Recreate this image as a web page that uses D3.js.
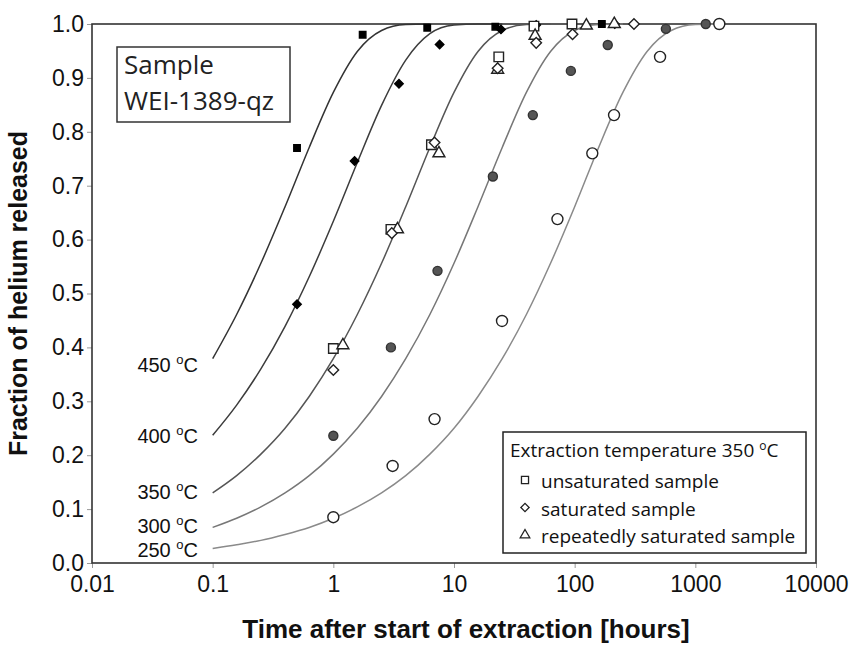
<!DOCTYPE html>
<html lang="en">
<head>
    <meta charset="utf-8" />
    <title>Helium release</title>
    <script src="https://cdnjs.cloudflare.com/ajax/libs/d3/7.4.4/d3.min.js"></script>
    <style>
      body { margin: 0; background: #fff; }
      svg { display: block; }
    </style>
</head>
<body>
    <div id="chart"></div>
    <script type="text/javascript">

    // time grid for the fitted curves (hours)
    var curveTimes = [0.1, 0.158, 0.251, 0.398, 0.631, 1, 1.58, 2.51, 3.98, 6.31, 10, 15.8, 25.1, 39.8, 63.1,
                      100, 158, 251, 398, 631, 1000, 1585];

    // fitted release curves
    var curve450 = [0.379, 0.461, 0.556, 0.661, 0.771, 0.873, 0.949, 0.988, 0.999, 1.0];
    var curve400 = [0.237, 0.293, 0.360, 0.439, 0.531, 0.634, 0.743, 0.849, 0.933, 0.982, 0.998, 1.0, 1.0];
    var curve350 = [0.130, 0.162, 0.202, 0.250, 0.309, 0.379, 0.461, 0.556, 0.661, 0.771, 0.873, 0.949, 0.988, 0.999, 1.0];
    var curve300 = [0.066, 0.083, 0.104, 0.130, 0.162, 0.202, 0.250, 0.309, 0.379, 0.461, 0.556, 0.661, 0.771, 0.873,
                    0.949, 0.988, 0.999, 1.0];
    var curve250 = [0.027, 0.034, 0.042, 0.053, 0.066, 0.083, 0.104, 0.130, 0.162, 0.202, 0.250, 0.309, 0.379, 0.461,
                    0.556, 0.661, 0.771, 0.873, 0.949, 0.988, 0.999, 1.0];

    var curveNames = ["450 \u00b0C", "400 \u00b0C", "350 \u00b0C", "300 \u00b0C", "250 \u00b0C"];

    // measured points [hours, fraction]
    var pts450 = [[0.5, 0.77], [1.75, 0.98], [6, 0.993], [22, 0.995], [168, 1.0]];
    var pts400 = [[0.5, 0.48], [1.5, 0.746], [3.5, 0.889], [7.6, 0.962], [24.5, 0.99], [48, 0.998], [215, 1.0]];
    var ptsUnsat = [[1, 0.398], [3, 0.619], [6.5, 0.776], [23.5, 0.939], [46, 0.996], [95, 1.0]];
    var ptsSat = [[1, 0.358], [3.05, 0.612], [6.9, 0.78], [23, 0.918], [48, 0.965], [96, 0.981], [310, 1.0]];
    var ptsRep = [[1.2, 0.404], [3.4, 0.619], [7.5, 0.76], [23, 0.915], [47, 0.978], [125, 0.997], [213, 1.0]];
    var pts300 = [[1, 0.236], [3, 0.40], [7.3, 0.542], [21, 0.717], [45, 0.831], [93, 0.913], [188, 0.961],
                  [570, 0.991], [1220, 1.0]];
    var pts250 = [[1, 0.085], [3.1, 0.18], [6.9, 0.267], [25, 0.449], [72, 0.638], [140, 0.76], [212, 0.831],
                  [510, 0.939], [1580, 1.0]];

    var xTicks = [0.01, 0.1, 1, 10, 100, 1000, 10000];
    var xTickLabels = ["0.01", "0.1", "1", "10", "100", "1000", "10000"];
    var yTicks = [0, 0.1, 0.2, 0.3, 0.4, 0.5, 0.6, 0.7, 0.8, 0.9, 1.0];

    var legendLabels = ["unsaturated sample", "saturated sample", "repeatedly saturated sample"];

    var width = 856, height = 646;
    var margin = { top: 24, right: 40, bottom: 83, left: 92 };

    var svg = d3.select("#chart").append("svg")
        .attr("width", width)
        .attr("height", height);

    var x = d3.scaleLog()
        .domain([0.01, 10000])
        .range([margin.left, width - margin.right]);

    var y = d3.scaleLinear()
        .domain([0, 1])
        .range([height - margin.bottom, margin.top]);

    // axes
    var xAxis = svg.append("g")
        .attr("transform", "translate(0," + (height - margin.bottom) + ")")
        .call(d3.axisBottom(x).tickValues(xTicks).tickSize(5).tickPadding(8)
            .tickFormat(function (d, i) { return xTickLabels[i]; }));

    var yAxis = svg.append("g")
        .attr("transform", "translate(" + margin.left + ",0)")
        .call(d3.axisLeft(y).tickValues(yTicks).tickSize(5).tickPadding(3).tickFormat(d3.format(".1f")));

    [xAxis, yAxis].forEach(function (ax) {
        ax.select(".domain").remove();
        ax.selectAll(".tick line").attr("stroke", "#999").attr("stroke-width", 1);
        ax.selectAll(".tick text")
            .attr("fill", "#111")
            .style("font-family", "'Liberation Sans', Arial, sans-serif")
            .style("font-size", "23px");
    });

    // plot frame
    svg.append("rect")
        .attr("x", x(0.01))
        .attr("y", y(1))
        .attr("width", x(10000) - x(0.01))
        .attr("height", y(0) - y(1))
        .attr("fill", "none")
        .attr("stroke", "#333")
        .attr("stroke-width", 1.6);

    // curves
    var curveData = [curve450, curve400, curve350, curve300, curve250];
    var curveColors = ["#333", "#3c3c3c", "#555", "#777", "#8a8a8a"];

    var line = d3.line()
        .x(function (d, i) { return x(curveTimes[i]); })
        .y(function (d) { return y(d); })
        .curve(d3.curveMonotoneX);

    svg.selectAll(".fit")
        .data(curveData)
        .enter()
        .append("path")
            .attr("class", "fit")
            .attr("d", line)
            .attr("fill", "none")
            .attr("stroke", function (d, i) { return curveColors[i]; })
            .attr("stroke-width", 1.5);

    // curve labels
    var labelY = [372, 443, 499, 533, 557];
    curveNames.forEach(function (name, i) {
        var parts = name.split(" \u00b0");
        var t = svg.append("text")
            .attr("x", 198)
            .attr("y", labelY[i])
            .attr("text-anchor", "end")
            .attr("fill", "#111")
            .style("font-family", "'Liberation Sans', Arial, sans-serif")
            .style("font-size", "20px");
        t.append("tspan").text(parts[0] + " ");
        t.append("tspan").attr("dy", -8).style("font-size", "13px").text("o");
        t.append("tspan").attr("dy", 8).text(parts[1]);
    });

    // markers
    function drawPoints(data, type, size, fill, stroke, rotate) {
        svg.append("g").selectAll("path")
            .data(data)
            .enter()
            .append("path")
                .attr("d", d3.symbol().type(type).size(size))
                .attr("transform", function (d) {
                    return "translate(" + x(d[0]) + "," + y(d[1]) + ")" + (rotate ? " rotate(45)" : "");
                })
                .attr("fill", fill)
                .attr("stroke", stroke)
                .attr("stroke-width", 1.4);
    }

    drawPoints(pts300, d3.symbolCircle, 64, "#555", "#333", false);
    drawPoints(pts250, d3.symbolCircle, 95, "#fff", "#222", false);
    drawPoints(pts450, d3.symbolSquare, 42, "#000", "#000", false);
    drawPoints(pts400, d3.symbolSquare, 36, "#000", "#000", true);
    drawPoints(ptsUnsat, d3.symbolSquare, 90, "#fff", "#222", false);
    drawPoints(ptsRep, d3.symbolTriangle, 62, "#fff", "#222", false);
    drawPoints(ptsSat, d3.symbolSquare, 56, "#fff", "#222", true);

    // sample box
    svg.append("rect")
        .attr("x", 117).attr("y", 47)
        .attr("width", 173).attr("height", 75)
        .attr("fill", "#fff")
        .attr("stroke", "#333")
        .attr("stroke-width", 1.5);

    svg.append("text")
        .attr("x", 124).attr("y", 74)
        .attr("fill", "#222")
        .style("font-family", "'Open Sans', sans-serif")
        .style("font-size", "26px")
        .text("Sample");

    svg.append("text")
        .attr("x", 124).attr("y", 110)
        .attr("fill", "#222")
        .style("font-family", "'Open Sans', sans-serif")
        .style("font-size", "26px")
        .text("WEI-1389-qz");

    // legend
    var legend = svg.append("g");
    legend.append("rect")
        .attr("x", 503).attr("y", 432)
        .attr("width", 303).attr("height", 121)
        .attr("fill", "#fff")
        .attr("stroke", "#222")
        .attr("stroke-width", 1.5);

    var title = legend.append("text")
        .attr("x", 510).attr("y", 457)
        .attr("fill", "#111")
        .style("font-family", "'Open Sans', sans-serif")
        .style("font-size", "19px");
    title.append("tspan").text("Extraction temperature 350 ");
    title.append("tspan").attr("dy", -7).style("font-size", "12px").text("o");
    title.append("tspan").attr("dy", 7).text("C");

    var legendTypes = [d3.symbolSquare, d3.symbolSquare, d3.symbolTriangle];
    var legendSizes = [50, 34, 40];
    legendLabels.forEach(function (lab, i) {
        var ly = 488 + i * 27.5;
        legend.append("path")
            .attr("d", d3.symbol().type(legendTypes[i]).size(legendSizes[i]))
            .attr("transform", "translate(525," + (ly - 8) + ")" + (i == 1 ? " rotate(45)" : ""))
            .attr("fill", "#fff")
            .attr("stroke", "#222")
            .attr("stroke-width", 1.3);
        legend.append("text")
            .attr("x", 541).attr("y", ly)
            .attr("fill", "#111")
            .style("font-family", "'Open Sans', sans-serif")
            .style("font-size", "19px")
            .text(lab);
    });

    // axis titles
    svg.append("text")
        .attr("x", 466)
        .attr("y", 638)
        .attr("text-anchor", "middle")
        .attr("fill", "#111")
        .style("font-family", "'Liberation Sans', Arial, sans-serif")
        .style("font-weight", "bold")
        .style("font-size", "26px")
        .text("Time after start of extraction [hours]");

    svg.append("text")
        .attr("transform", "translate(27," + y(0.5) + ") rotate(-90)")
        .attr("text-anchor", "middle")
        .attr("fill", "#111")
        .style("font-family", "'Liberation Sans', Arial, sans-serif")
        .style("font-weight", "bold")
        .style("font-size", "25px")
        .text("Fraction of helium released");

    </script>
</body>
</html>
